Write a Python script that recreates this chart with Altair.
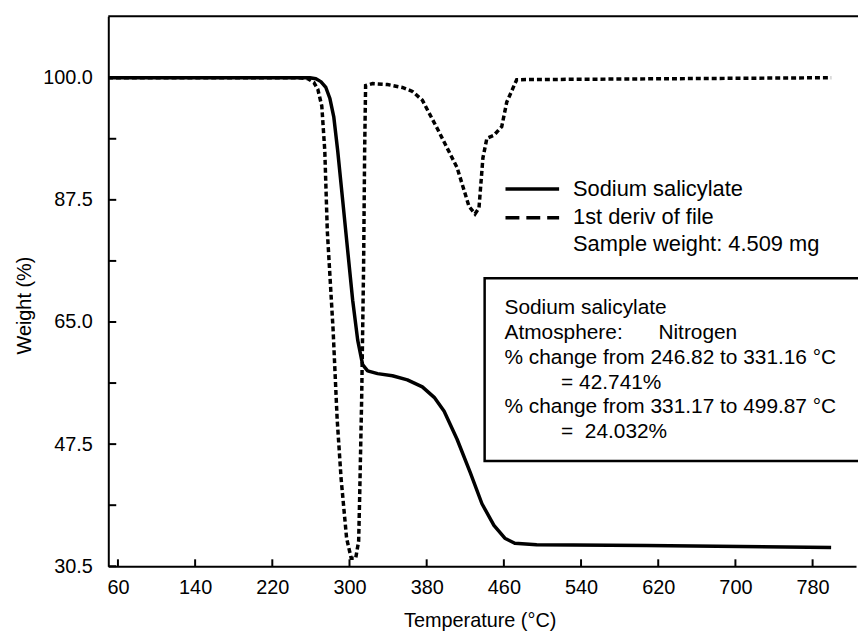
import altair as alt
import pandas as pd

# ---- data ----
# TGA weight curve (Sodium salicylate), temperature in °C, weight in axis units
tga_temp = [49.7, 200.0, 259.0, 265.2, 270.3, 275.5, 279.6, 283.7, 287.8, 293.0, 298.1, 303.3,
            308.5, 313.6, 318.8, 329.1, 344.5, 360.0, 375.5, 387.8, 398.1, 411.5, 425.0,
            437.3, 449.7, 461.0, 471.3, 494.0, 607.4, 799.2]
tga_weight = [100.0, 100.0, 100.0, 99.9, 99.6, 99.0, 97.9, 96.0, 92.5, 87.3, 78.2, 69.0,
              62.4, 58.9, 58.0, 57.6, 57.3, 56.7, 55.7, 54.2, 52.2, 48.2, 43.6,
              39.2, 36.2, 34.4, 33.7, 33.5, 33.4, 33.1]

# 1st derivative curve
der_temp = [49.7, 246.6, 256.9, 263.1, 267.2, 271.3, 274.4, 277.0, 283.0, 287.2, 291.3,
            297.0, 301.8, 306.4, 309.5, 310.5, 312.6, 314.6, 315.7, 316.7, 323.9, 339.4,
            354.8, 365.2, 375.5, 391.0, 411.5, 423.9, 430.1, 434.2, 438.3, 442.4, 449.6,
            457.8, 463.0, 473.3, 799.2]
der_value = [100.0, 100.0, 99.9, 99.5, 98.8, 97.1, 92.5, 81.8, 63.9, 51.1, 42.7,
             34.4, 31.6, 31.6, 34.0, 39.9, 53.9, 75.0, 92.5, 99.2, 99.4, 99.3,
             99.0, 98.6, 97.7, 94.8, 90.8, 86.3, 84.9, 86.0, 91.8, 93.8, 94.1,
             95.0, 97.5, 99.8, 100.0]

x_ticks = [60, 140, 220, 300, 380, 460, 540, 620, 700, 780]
y_ticks = [30.5, 47.5, 65.0, 87.5, 100.0]
y_minor = [39.0, 56.25, 76.25, 93.75]

legend_labels = ["Sodium salicylate", "1st deriv of file", "Sample weight: 4.509 mg"]
box_lines = ["Sodium salicylate", "Atmosphere:", "% change from 246.82 to 331.16 °C",
             "= 42.741%", "% change from 331.17 to 499.87 °C", "=\u00a0 24.032%"]
box_extra = "Nitrogen"

# ---- chart ----
FONT = "Liberation Sans"
W, H = 753, 554

df_tga = pd.DataFrame({"T": tga_temp, "W": tga_weight})
df_der = pd.DataFrame({"T": der_temp, "W": der_value})
df_one = pd.DataFrame({"a": [0]})
df_xt = pd.DataFrame({"T": x_ticks})
df_yt = pd.DataFrame({"W": y_ticks + y_minor})

xscale = alt.Scale(domain=[50, 825], nice=False, zero=False)
yscale = alt.Scale(domain=[30.5, 47.5, 65.0, 87.5, 100.0, 106.3],
                   range=[554, 431, 308, 185, 62, 0], nice=False, zero=False)

xaxis = alt.Axis(values=x_ticks, format="d", title="Temperature (°C)", ticks=False,
                 grid=False, labelPadding=11, labelFontSize=20, labelFont=FONT,
                 labelColor="black", labelFlush=False, titleFont=FONT, titleFontSize=20,
                 titleFontWeight="normal", titleColor="black", titleX=374, titleY=55,
                 titleBaseline="middle", titleAlign="center",
                 domainColor="black", domainWidth=2)
yaxis = alt.Axis(values=y_ticks, format=".1f", title="Weight (%)", ticks=False,
                 grid=False, labelPadding=16, labelFontSize=20, labelFont=FONT,
                 labelColor="black", labelFlush=False, titleFont=FONT, titleFontSize=20,
                 titleFontWeight="normal", titleColor="black", titleX=-84, titleY=291,
                 titleAngle=270, titleBaseline="middle", titleAlign="center",
                 domainColor="black", domainWidth=2)

X = alt.X("T:Q", scale=xscale, axis=xaxis)
Y = alt.Y("W:Q", scale=yscale, axis=yaxis)

tga = alt.Chart(df_tga).mark_line(color="black", strokeWidth=3.5, strokeJoin="round").encode(
    x=X, y=Y, order=alt.Order("T:Q"))
der = alt.Chart(df_der).mark_line(color="black", strokeWidth=3.5, strokeDash=[5, 3]).encode(
    x=X, y=Y, order=alt.Order("T:Q"))

yticks = alt.Chart(df_yt).mark_rule(color="black", strokeWidth=2).encode(
    y=Y, x=alt.value(0), x2=alt.value(8))
xticks = alt.Chart(df_xt).mark_rule(color="black", strokeWidth=2).encode(
    x=X, y=alt.value(H), y2=alt.value(H - 7))
top = alt.Chart(df_one).mark_rule(color="black", strokeWidth=2).encode(
    x=alt.value(0), x2=alt.value(W + 20), y=alt.value(0))

box = alt.Chart(df_one).mark_rect(fillOpacity=0, stroke="black", strokeWidth=2.5).encode(
    x=alt.value(379), x2=alt.value(W + 30), y=alt.value(264), y2=alt.value(448))

layers = [tga, der, yticks, xticks, top, box]

# legend samples
layers.append(alt.Chart(df_one).mark_rule(color="black", strokeWidth=3.5).encode(
    x=alt.value(400), x2=alt.value(454), y=alt.value(174)))
layers.append(alt.Chart(df_one).mark_rule(color="black", strokeWidth=3.5, strokeDash=[14, 7]).encode(
    x=alt.value(400), x2=alt.value(454), y=alt.value(203)))
for i, lab in enumerate(legend_labels):
    layers.append(alt.Chart(df_one).mark_text(align="left", baseline="middle", font=FONT,
                                              fontSize=22, color="black", text=lab).encode(
        x=alt.value(468), y=alt.value([174, 202, 230][i])))

box_x = [399, 399, 399, 456, 399, 456]
for i, line in enumerate(box_lines):
    layers.append(alt.Chart(df_one).mark_text(align="left", baseline="middle", font=FONT,
                                              fontSize=21, color="black", text=line).encode(
        x=alt.value(box_x[i]), y=alt.value(294 + 25 * i)))
layers.append(alt.Chart(df_one).mark_text(align="left", baseline="middle", font=FONT,
                                          fontSize=21, color="black", text=box_extra).encode(
    x=alt.value(554), y=alt.value(319)))

chart = alt.layer(*layers).properties(
    width=W, height=H,
    autosize=alt.AutoSizeParams(type="none"),
    padding={"left": 101, "top": 6, "right": 2, "bottom": 64},
    background="white",
).configure_view(stroke=None)

chart.save("out.html", embed_options={"renderer": "svg", "actions": False})
